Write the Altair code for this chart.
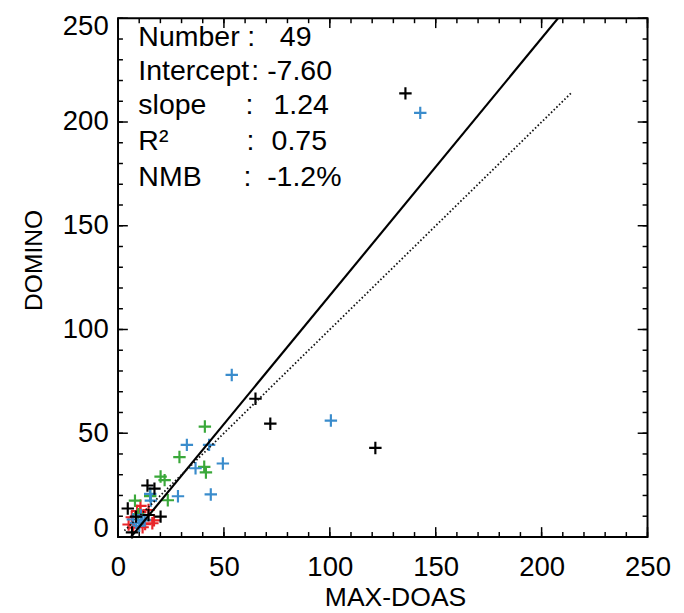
import altair as alt
import pandas as pd

# ---- data ----
black_x = [135.7, 64.9, 71.9, 121.5, 13.9, 17.2, 4.6, 8.5, 14.4, 20.1, 6.6]
black_y = [213.8, 66.6, 54.6, 42.9, 24.8, 23.3, 13.7, 9.8, 10.6, 9.8, 2.2]
blue_x = [142.7, 100.5, 53.7, 32.5, 43.0, 49.5, 36.6, 43.8, 28.3, 15.5, 15.2, 7.0, 12.6, 8.6, 10.0, 10.8, 11.5]
blue_y = [204.4, 56.1, 78.1, 44.4, 44.4, 35.4, 33.1, 20.5, 19.6, 17.5, 20.8, 8.4, 8.2, 6.8, 5.4, 10.5, 8.0]
green_x = [41.0, 29.0, 40.7, 41.5, 20.1, 22.0, 23.5, 15.2, 8.0, 9.5]
green_y = [53.2, 38.5, 33.8, 31.1, 29.1, 27.4, 17.7, 19.7, 17.5, 11.0]
red_x = [10.6, 14.4, 5.0, 17.0, 12.8, 11.6, 16.2, 7.2, 9.0, 6.5, 10.5]
red_y = [15.0, 13.0, 6.0, 8.0, 6.2, 4.7, 6.6, 4.5, 12.5, 9.5, 12.0]

series_names = ["red", "green", "blue", "black"]
series_colors = ["#e8262a", "#3aa83a", "#3a8ccc", "#000000"]

intercept = -7.60
slope = 1.24
fit_x = [6.13, 215.0]
one_x = [3.0, 214.0]

stat_labels = ["Number", "Intercept", "slope", "R²", "NMB"]
stat_values = ["49", "-7.60", "1.24", "0.75", "-1.2%"]
stat_y = [240.8, 224.4, 207.9, 190.6, 173.4]
label_x = [9.6, 9.6, 9.6, 9.6, 9.6]
colon_x = [62.9, 64.8, 62.0, 62.5, 61.1]
value_x = [76.4, 70.4, 73.4, 72.5, 70.4]

axis_min, axis_max = 0, 250
major_ticks = [0, 50, 100, 150, 200, 250]
minor_ticks = list(range(0, 251, 10))

FONT = "Liberation Sans"
W, H = 539, 528

# ---- tables ----
rows = []
for name, xs, ys in [("red", red_x, red_y), ("green", green_x, green_y),
                     ("blue", blue_x, blue_y), ("black", black_x, black_y)]:
    for a, b in zip(xs, ys):
        rows.append({"x": a, "y": b, "s": name})
pts = pd.DataFrame(rows)

fit = pd.DataFrame({"x": fit_x, "y": [intercept + slope * v for v in fit_x]})
one = pd.DataFrame({"x": one_x, "y": one_x})
stats = pd.DataFrame({
    "lab": stat_labels, "val": stat_values, "y": stat_y,
    "lx": label_x, "cx": colon_x, "vx": value_x, "colon": [":"] * 5,
})

sc = alt.Scale(domain=[axis_min, axis_max], nice=False, zero=False)

x_axis = alt.Axis(
    orient="bottom", values=major_ticks, ticks=False, domain=False, grid=False,
    title="MAX-DOAS", labelFontSize=28, labelFont=FONT, labelColor="black",
    labelPadding=17, titleFontSize=27, titleFont=FONT, titleFontWeight="normal",
    titleColor="black", titlePadding=4, labelFlush=False, titleX=282)
y_axis = alt.Axis(
    orient="left", values=major_ticks, ticks=False, domain=False, grid=False,
    title="DOMINO", labelFontSize=28, labelFont=FONT, labelColor="black",
    labelPadding=10, titleFontSize=25, titleFont=FONT, titleFontWeight="normal",
    titleColor="black", titlePadding=16, labelFlush=False, titleY=246,
    labelOffset={"condition": [{"test": "datum.value == 250", "value": 9},
                               {"test": "datum.value == 0", "value": -8}],
                 "value": 0})


def X(field):
    return alt.X(field, type="quantitative", scale=sc, axis=x_axis)


def Y(field):
    return alt.Y(field, type="quantitative", scale=sc, axis=y_axis)


# inward tick marks on all four sides, drawn as short stroked symbols
def tick_layers(values, size):
    sides = [
        ("M0,0L0,-1", values, [axis_min] * len(values)),   # bottom
        ("M0,0L0,1", values, [axis_max] * len(values)),    # top
        ("M0,0L1,0", [axis_min] * len(values), values),    # left
        ("M0,0L-1,0", [axis_max] * len(values), values),   # right
    ]
    out = []
    for path, xs, ys in sides:
        df = pd.DataFrame({"tx": xs, "ty": ys})
        out.append(alt.Chart(df).mark_point(
            shape=path, size=size, filled=False, stroke="black", strokeWidth=1.5,
            opacity=1).encode(x=X("tx"), y=Y("ty")))
    return out


cross = "M-1,0L1,0M0,-1L0,1"

points = alt.Chart(pts).mark_point(shape=cross, size=160, strokeWidth=2.2,
                                   filled=False, opacity=1).encode(
    x=X("x"), y=Y("y"),
    color=alt.Color("s:N", scale=alt.Scale(domain=series_names, range=series_colors),
                    legend=None),
)

fit_line = alt.Chart(fit).mark_line(color="black", strokeWidth=2.2, clip=True).encode(
    x=X("x"), y=Y("y"))

one_line = alt.Chart(one).mark_line(color="#111111", strokeWidth=1.8,
                                    strokeDash=[1.6, 2.2], clip=True).encode(
    x=X("x"), y=Y("y"))

txt_kw = dict(baseline="middle", fontSize=29, font=FONT, color="black")

txt_lab = alt.Chart(stats).mark_text(align="left", **txt_kw).encode(
    x=X("lx"), y=Y("y"), text="lab:N")
txt_colon = alt.Chart(stats).mark_text(align="center", **txt_kw).encode(
    x=X("cx"), y=Y("y"), text="colon:N")
txt_val = alt.Chart(stats).mark_text(align="left", **txt_kw).encode(
    x=X("vx"), y=Y("y"), text="val:N")

layers = [points] + tick_layers(major_ticks, 400) + tick_layers(minor_ticks, 100) + [
    fit_line, one_line, txt_lab, txt_colon, txt_val]

chart = alt.layer(*layers).properties(
    width=W, height=H,
    padding={"left": 14, "top": 0, "right": 5, "bottom": 0},
    background="white",
).configure_view(stroke="black", strokeWidth=2)

chart.save("out.html", embed_options={"renderer": "svg", "actions": False})
